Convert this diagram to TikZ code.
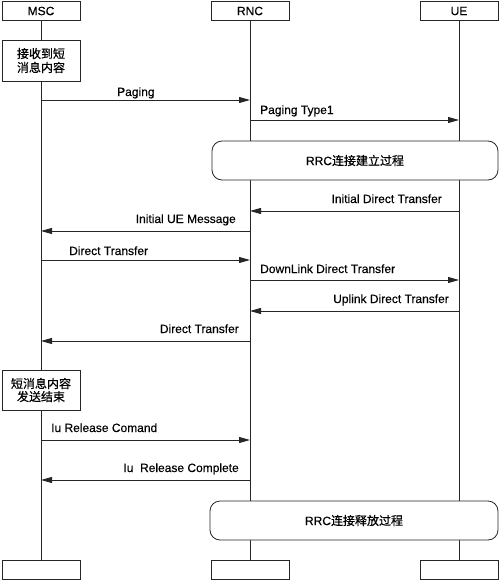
\documentclass[tikz,border=0pt]{standalone}
\usepackage{fontspec}
\setmainfont{Liberation Sans}[FakeBold=0.4]
\newfontfamily\cjk{Noto Sans CJK SC}[FakeBold=0.6]
\usetikzlibrary{arrows.meta}
\begin{document}
\begin{tikzpicture}[x=1pt,y=-1pt,
  every node/.style={font=\fontsize{12}{14}\selectfont},
  actor/.style={draw=black!85, line width=0.8pt, fill=white, minimum width=78pt, minimum height=19pt, inner sep=0pt},
  note/.style={draw=black!85, line width=0.8pt, fill=white, minimum width=78pt, inner sep=0pt, align=center},
  proc/.style={draw=black!85, line width=0.8pt, fill=white, rounded corners=10pt, minimum height=39pt, inner sep=0pt},
  life/.style={draw=black!85, line width=0.8pt},
  msg/.style={draw=black!85, line width=0.8pt, -{Triangle[length=11pt,width=6pt]}},
  lbl/.style={inner sep=0pt}]
\useasboundingbox (0,0) rectangle (500,581);
% actors
\node[actor] (msc) at (41,11) {MSC};
\node[actor] (rnc) at (250,11) {RNC};
\node[actor] (ue) at (459,11) {UE};
\node[actor] (mscb) at (41,570) {};
\node[actor] (rncb) at (250,570) {};
\node[actor] (ueb) at (459,570) {};
% lifelines
\draw[life] (msc.south) -- (mscb.north);
\draw[life] (rnc.south) -- (rncb.north);
\draw[life] (ue.south) -- (ueb.north);
% notes
\node[note, minimum height=41pt, font=\cjk\fontsize{12}{14}\selectfont] (n1) at (41,60.5) {接收到短\\消息内容};
\node[note, minimum height=40pt, font=\cjk\fontsize{12}{13}\selectfont] (n2) at (41,390) {短消息内容\\发送结束};
\node[proc, minimum width=286pt] (rrc1) at (355,160.5) {RRC{\cjk 连接建立过程}};
\node[proc, minimum width=288pt] (rrc2) at (354,520.5) {RRC{\cjk 连接释放过程}};
% lifeline points
\coordinate (m1) at (41,100);   \coordinate (r1) at (250,100);
\coordinate (r2) at (250,120);  \coordinate (u2) at (459,120);
\coordinate (u3) at (459,211);  \coordinate (r3) at (250,211);
\coordinate (r4) at (250,231);  \coordinate (m4) at (41,231);
\coordinate (m5) at (41,260);   \coordinate (r5) at (250,260);
\coordinate (r6) at (250,280);  \coordinate (u6) at (459,280);
\coordinate (u7) at (459,311);  \coordinate (r7) at (250,311);
\coordinate (r8) at (250,341);  \coordinate (m8) at (41,341);
\coordinate (m9) at (41,440);   \coordinate (r9) at (250,440);
\coordinate (r10) at (250,480); \coordinate (m10) at (41,480);
% messages
\draw[msg] (m1) -- (r1);
\draw[msg] (r2) -- (u2);
\draw[msg] (u3) -- (r3);
\draw[msg] (r4) -- (m4);
\draw[msg] (m5) -- (r5);
\draw[msg] (r6) -- (u6);
\draw[msg] (u7) -- (r7);
\draw[msg] (r8) -- (m8);
\draw[msg] (m9) -- (r9);
\draw[msg] (r10) -- (m10);
% labels
\node[lbl, anchor=base west] (l1) at (117,96) {Paging};
\node[lbl, anchor=base west] (l2) at (260,114) {Paging Type1};
\node[lbl, anchor=base east] (l3) at (442,203) {Initial Direct Transfer};
\node[lbl, anchor=base east] (l4) at (236,223) {Initial UE Message};
\node[lbl, anchor=base west] (l5) at (69,255) {Direct Transfer};
\node[lbl, anchor=base west] (l6) at (260,273) {DownLink Direct Transfer};
\node[lbl, anchor=base east] (l7) at (449,303) {Uplink Direct Transfer};
\node[lbl, anchor=base east] (l8) at (239,333) {Direct Transfer};
\node[lbl, anchor=base west] (l9) at (51,432) {Iu Release Comand};
\node[lbl, anchor=base east] (l10) at (239,472) {Iu\ \ Release Complete};
\end{tikzpicture}
\end{document}
